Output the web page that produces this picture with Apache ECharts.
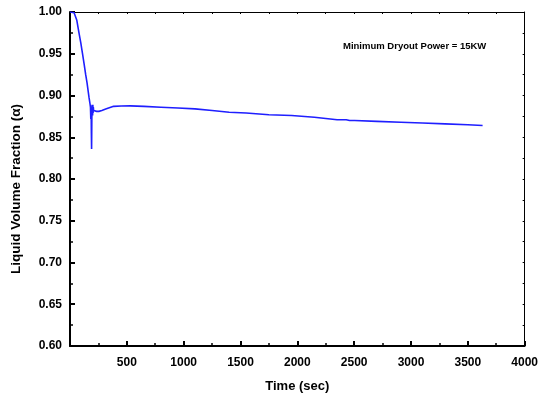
<!DOCTYPE html>
<html>
<head>
<meta charset="utf-8">
<script src="https://cdn.jsdelivr.net/npm/echarts@6/dist/echarts.min.js"></script>
<style>html,body{margin:0;padding:0;background:#fff;}#c{width:541px;height:401px;}</style>
</head>
<body>
<div id="c"></div>
<script>
var times = [0, 15, 36, 60, 79, 95, 109, 124, 138, 150, 158, 167, 175, 180, 183, 186, 188, 190, 192, 194, 197, 199, 201, 203, 205, 208, 212, 220, 235, 254, 280, 320, 384, 450, 530, 650, 800, 950, 1100, 1250, 1400, 1550, 1750, 1950, 2150, 2350, 2430, 2446, 2460, 2504, 2700, 2910, 3100, 3300, 3500, 3630];
var alpha = [1.000, 1.000, 0.999, 0.990, 0.975, 0.963, 0.951, 0.938, 0.925, 0.915, 0.907, 0.898, 0.891, 0.886, 0.872, 0.884, 0.855, 0.836, 0.870, 0.889, 0.891, 0.876, 0.889, 0.879, 0.886, 0.882, 0.884, 0.882, 0.881, 0.881, 0.882, 0.884, 0.887, 0.8875, 0.8876, 0.887, 0.886, 0.885, 0.884, 0.882, 0.880, 0.879, 0.877, 0.876, 0.874, 0.871, 0.871, 0.869, 0.870, 0.870, 0.869, 0.868, 0.867, 0.866, 0.865, 0.864];
var xTicks = [0, 4000, 500];
var yTicks = [0.60, 1.00, 0.05];
var annotation = 'Minimum Dryout Power = 15KW';
var xTitle = 'Time (sec)';
var yTitle = 'Liquid Volume Fraction (\u03b1)';

var chart = echarts.init(document.getElementById('c'), null, {renderer: 'canvas'});
var data = times.map(function (t, i) { return [t, alpha[i]]; });
var labelFont = {fontFamily: '"Liberation Sans Narrow", "Liberation Sans", Arial, sans-serif', fontWeight: 'bold', fontSize: 12, color: '#000'};
chart.setOption({
  animation: false,
  backgroundColor: '#fff',
  grid: {left: 70, right: 12, top: 12, bottom: 55},
  xAxis: [{
    type: 'value', min: xTicks[0], max: xTicks[1], interval: xTicks[2], position: 'bottom',
    name: xTitle, nameLocation: 'middle', nameGap: 34,
    nameTextStyle: {fontFamily: '"Liberation Sans", Arial, sans-serif', fontWeight: 'bold', fontSize: 13, color: '#000'},
    axisLine: {show: true, onZero: false, lineStyle: {color: '#000', width: 2}},
    axisTick: {show: true, inside: true, length: 5, lineStyle: {color: '#000', width: 2}},
    minorTick: {show: true, splitNumber: 2, length: 3, lineStyle: {color: '#000', width: 1.5}},
    axisLabel: Object.assign({margin: 11, formatter: function (v) { return v === 0 ? '' : String(v); }}, labelFont),
    splitLine: {show: false}
  }, {
    type: 'value', min: xTicks[0], max: xTicks[1], interval: xTicks[2] / 2, position: 'top',
    axisLine: {show: true, onZero: false, lineStyle: {color: '#000', width: 1}},
    axisTick: {show: true, inside: true, length: 2, lineStyle: {color: '#000', width: 1}},
    axisLabel: {show: false}, splitLine: {show: false}
  }],
  yAxis: [{
    type: 'value', min: yTicks[0], max: yTicks[1], interval: yTicks[2], position: 'left',
    name: yTitle, nameLocation: 'middle', nameGap: 47,
    nameTextStyle: {fontFamily: '"Liberation Sans", Arial, sans-serif', fontWeight: 'bold', fontSize: 13.5, color: '#000', padding: [0, 20, 0, 0]},
    axisLine: {show: true, onZero: false, lineStyle: {color: '#000', width: 2}},
    axisTick: {show: true, inside: true, length: 5, lineStyle: {color: '#000', width: 2}},
    minorTick: {show: true, splitNumber: 2, length: 3, lineStyle: {color: '#000', width: 1.5}},
    axisLabel: Object.assign({margin: 8, formatter: function (v) { return v.toFixed(2); }}, labelFont),
    splitLine: {show: false}
  }, {
    type: 'value', min: yTicks[0], max: yTicks[1], interval: yTicks[2] / 2, position: 'right',
    axisLine: {show: true, onZero: false, lineStyle: {color: '#000', width: 1}},
    axisTick: {show: true, inside: true, length: 2, lineStyle: {color: '#000', width: 1}},
    axisLabel: {show: false}, splitLine: {show: false}
  }],
  graphic: [{
    type: 'text', left: 343, top: 41,
    style: {text: annotation, fill: '#000', font: 'bold 9.5px "Liberation Sans", Arial, sans-serif'}
  }],
  series: [{
    type: 'line', data: data, xAxisIndex: 0, yAxisIndex: 0,
    showSymbol: false, symbol: 'none', smooth: false,
    lineStyle: {color: '#1f1fff', width: 1.6}
  }]
});
</script>
</body>
</html>
